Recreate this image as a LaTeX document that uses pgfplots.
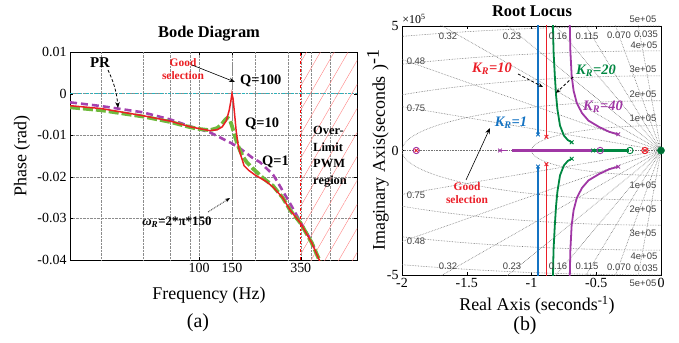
\documentclass[border=0pt]{standalone}
\usepackage{pgfplots}
\pgfplotsset{compat=1.18}
\usepackage{fontspec}
\setmainfont{Liberation Serif}
\setsansfont{Liberation Sans}
\usetikzlibrary{patterns.meta,arrows.meta}
\definecolor{cR}{RGB}{235,30,35}
\definecolor{cG}{RGB}{110,185,60}
\definecolor{cP}{RGB}{165,65,175}
\definecolor{cC}{RGB}{40,180,190}
\definecolor{bB}{RGB}{20,115,195}
\definecolor{bR}{RGB}{235,30,40}
\definecolor{bG}{RGB}{0,135,65}
\definecolor{bP}{RGB}{160,55,165}
\newcommand\fsz[2]{\fontsize{#1}{#2}\selectfont}
\tikzset{gl/.style={densely dotted, black!55, line width=0.6pt},
  zl/.style={font=\sffamily\fsz{9.5}{10}, text=black!75, inner sep=0.5pt}}
\begin{document}
\begin{tikzpicture}
\useasboundingbox (0,0) rectangle (679bp,-343bp);
% ---------------- (a) Bode ----------------
\begin{axis}[
  at={(70bp,-52bp)}, anchor=north west,
  scale only axis, width=287bp, height=208bp,
  xmode=log, xmin=20.4, xmax=700, ymin=-0.04, ymax=0.01,
  scaled y ticks=false,
  xtick={100,150,350}, xticklabels={100,150,350},
  extra x ticks={30,50,70,90,200,300,400,500}, extra x tick labels={},
  extra x tick style={grid=major, major tick length=0pt},
  ytick={-0.04,-0.03,-0.02,-0.01,0,0.01},
  yticklabels={-0.04,-0.03,-0.02,-0.01,0,0.01},
  grid=major, grid style={densely dotted, black!45},
  tick label style={font=\fsz{14}{14}},
  axis line style={line width=1pt}, tick style={black},
  major tick length=3bp, minor tick length=0pt,
]
\addplot[draw=none, pattern={Lines[angle=60,distance=12bp,line width=0.4pt]}, pattern color=red!50]
  coordinates {(350,-0.04)(700,-0.04)(700,0.01)(350,0.01)} --cycle;
\addplot[cC, line width=1.2pt, dashdotted] coordinates {(20.4,0)(700,0)};
\addplot[black!45, line width=0.8pt, dashdotted] coordinates {(150,-0.04)(150,0.01)};
\addplot[red, line width=1.2pt, dashdotted] coordinates {(350,-0.04)(350,0.01)};
% PR
\addplot[cP, line width=2.6pt, dash pattern=on 7bp off 4bp] coordinates {
(20.4,-0.0021)(30,-0.0030)(50,-0.0045)(70,-0.0062)(90,-0.0079)(114,-0.0093)(129,-0.0105)
(150,-0.0120)(166,-0.0132)(194,-0.0155)(212,-0.0165)(249,-0.0195)(261,-0.0210)(307,-0.0264)
(350,-0.0310)(400,-0.0355)(440,-0.0400)(450,-0.0410)};
% Q=10
\addplot[cG, line width=3.8pt, dash pattern=on 10bp off 3bp] coordinates {
(20.4,-0.0033)(30,-0.0040)(50,-0.0055)(70,-0.0068)(90,-0.0081)(100,-0.0085)(114,-0.0088)
(125,-0.0083)(132,-0.0074)(138,-0.0063)(142,-0.0058)(146,-0.0062)(150,-0.0078)(155,-0.0100)
(160,-0.0120)(166,-0.0138)(172,-0.0152)(180,-0.0165)(194,-0.0180)(220,-0.0203)(249,-0.0222)
(280,-0.0250)(307,-0.0280)(350,-0.0312)(400,-0.0358)(445,-0.0405)};
% Q=100
\addplot[cR, line width=1.5pt] coordinates {
(20.4,-0.0029)(30,-0.0036)(50,-0.0053)(70,-0.0066)(90,-0.0080)(100,-0.0084)(114,-0.0089)
(125,-0.0087)(133,-0.0080)(140,-0.0065)(145,-0.0040)(148,-0.0018)(150,0.0000)(152,-0.0012)
(155,-0.0050)(158,-0.0090)(162,-0.0125)(166,-0.0144)(170,-0.0158)(174,-0.0173)(185,-0.0185)
(200,-0.0196)(230,-0.0212)(249,-0.0225)(280,-0.0250)(307,-0.0280)(350,-0.0312)(400,-0.0358)(445,-0.0405)};
\end{axis}
% annotations (a)
\node[font=\bfseries\fsz{16.5}{18}] at (209bp,-34bp) {Bode Diagram};
\node[font=\bfseries\fsz{15}{16}] at (100bp,-63bp) {PR};
\draw[densely dashed, line width=0.8pt, -{Stealth[length=6bp]}] (108bp,-70bp) to[bend left=10] (118bp,-108bp);
\node[align=center, text=cR, font=\bfseries\fsz{11.5}{12.5}] at (183bp,-69bp) {Good\\selection};
\draw[line width=0.6pt, -{Stealth[length=6bp]}] (192bp,-65bp) -- (235bp,-82bp);
\node[anchor=west, font=\bfseries\fsz{14.5}{16}, inner sep=0pt] at (240bp,-81bp) {Q=100};
\node[anchor=west, font=\bfseries\fsz{14.5}{16}, inner sep=0pt] at (245bp,-124bp) {Q=10};
\node[anchor=west, font=\bfseries\fsz{14.5}{16}, inner sep=0pt] at (262bp,-162bp) {Q=1};
\node[font=\bfseries\fsz{13}{14}] at (177bp,-222bp) {\textit{ω}\textsubscript{\textit{R}}=2*π*150};
\draw[densely dotted, line width=0.8pt, -{Stealth[length=5bp]}] (208bp,-212bp) -- (230bp,-198bp);
\node[anchor=north west, align=left, inner sep=0pt, font=\bfseries\fsz{12.5}{16.8}] at (313bp,-126bp) {Over-\\Limit\\PWM\\region};
\node[font=\fsz{18}{20}] at (209bp,-295bp) {Frequency (Hz)};
\node[font=\fsz{20}{22}] at (198bp,-323bp) {(a)};
\node[font=\fsz{18}{20}, rotate=90] at (22bp,-156bp) {Phase (rad)};
% ---------------- (b) Root locus ----------------
\begin{axis}[
  at={(402bp,-26bp)}, anchor=north west,
  scale only axis, width=259bp, height=249bp,
  xmin=-2, xmax=0, ymin=-5, ymax=5,
  xtick={-2,-1.5,-1,-0.5,0}, xticklabels={-2,-1.5,-1,-0.5,0},
  ytick={-5,0,5}, yticklabels={-5,0,5},
  tick label style={font=\fsz{14}{14}},
  axis line style={line width=1pt}, tick style={black}, major tick length=3bp,
]
% grid: damping rays and wn circles
\addplot[gl] coordinates {(-10,0)(0,0)};
\addplot[gl] coordinates {(-0.35,9.994)(0,0)(-0.35,-9.994)};
\addplot[gl] coordinates {(-0.70,9.975)(0,0)(-0.70,-9.975)};
\addplot[gl] coordinates {(-1.15,9.934)(0,0)(-1.15,-9.934)};
\addplot[gl] coordinates {(-1.6,9.871)(0,0)(-1.6,-9.871)};
\addplot[gl] coordinates {(-2.3,9.732)(0,0)(-2.3,-9.732)};
\addplot[gl] coordinates {(-3.2,9.474)(0,0)(-3.2,-9.474)};
\addplot[gl] coordinates {(-4.8,8.773)(0,0)(-4.8,-8.773)};
\addplot[gl] coordinates {(-7.5,6.614)(0,0)(-7.5,-6.614)};
\draw[gl] (axis cs:0,0) ellipse [x radius=1, y radius=1];
\draw[gl] (axis cs:0,0) ellipse [x radius=2, y radius=2];
\draw[gl] (axis cs:0,0) ellipse [x radius=3, y radius=3];
\draw[gl] (axis cs:0,0) ellipse [x radius=4, y radius=4];
\draw[gl] (axis cs:0,0) ellipse [x radius=5, y radius=5];
% K_R = 1 (blue)
\addplot[bB, line width=1.6pt] coordinates {(-0.95,5.5)(-0.95,0.64)};
\addplot[bB, line width=1.6pt] coordinates {(-0.95,-0.64)(-0.95,-5.5)};
% K_R = 10 (red)
\addplot[bR, line width=0.5pt] coordinates {(-0.885,5.5)(-0.885,0.55)};
\addplot[bR, line width=0.5pt] coordinates {(-0.885,-0.55)(-0.885,-5.5)};
\addplot[bR, line width=1.5pt, densely dotted] coordinates {(-0.885,5.5)(-0.885,0.8)};
\addplot[bR, line width=1.5pt, densely dotted] coordinates {(-0.885,-2.2)(-0.885,-5.5)};
% K_R = 20 (green)
\addplot[bG, line width=1.8pt] coordinates {(-0.835,5.2)(-0.83,4)(-0.82,3)(-0.81,2.2)(-0.80,1.65)(-0.78,1.0)(-0.75,0.6)(-0.72,0.42)(-0.69,0.33)};
\addplot[bG, line width=1.8pt] coordinates {(-0.835,-5.2)(-0.83,-4)(-0.82,-3)(-0.81,-2.2)(-0.80,-1.65)(-0.78,-1.0)(-0.75,-0.6)(-0.72,-0.42)(-0.69,-0.33)};
% K_R = 40 (purple)
\addplot[bP, line width=1.8pt] coordinates {(-0.705,5.2)(-0.70,4)(-0.69,3)(-0.675,2.4)(-0.65,1.9)(-0.61,1.5)(-0.56,1.2)(-0.48,0.95)(-0.40,0.75)(-0.33,0.65)};
\addplot[bP, line width=1.8pt] coordinates {(-0.705,-5.2)(-0.70,-4)(-0.69,-3)(-0.675,-2.4)(-0.65,-1.9)(-0.61,-1.5)(-0.56,-1.2)(-0.48,-0.95)(-0.40,-0.75)(-0.33,-0.65)};
% real-axis branches
\addplot[bP, line width=1.2pt] coordinates {(-1.243,0)(-1.19,0)};
\addplot[bP, line width=3pt] coordinates {(-1.15,0)(-0.525,0)};
\addplot[bG, line width=3pt] coordinates {(-0.525,0)(-0.25,0)};
% markers
\addplot[only marks, mark=x, mark size=2.6, bB, line width=0.9pt] coordinates {(-0.95,0.64)(-0.95,-0.64)};
\addplot[only marks, mark=x, mark size=2.6, bR, line width=0.9pt] coordinates {(-0.885,0.55)(-0.885,-0.55)(-0.124,0)(-1.89,0)};
\addplot[only marks, mark=x, mark size=2.6, bG, line width=0.9pt] coordinates {(-0.69,0.33)(-0.69,-0.33)(-0.525,0)};
\addplot[only marks, mark=x, mark size=2.6, bP, line width=0.9pt] coordinates {(-0.33,0.65)(-0.33,-0.65)(-1.243,0)};
\addplot[only marks, mark=o, mark size=3.2, bP, line width=0.9pt] coordinates {(-0.47,0)(-1.89,0)};
\addplot[only marks, mark=o, mark size=3.2, bG, line width=0.9pt] coordinates {(-0.24,0)};
\addplot[only marks, mark=o, mark size=3.2, bR, line width=0.9pt] coordinates {(-0.124,0)};
\addplot[only marks, mark=*, mark size=3.6, bG, mark options={fill=bG!80!black}] coordinates {(0,0)};
\end{axis}
% grid labels (b)
\node[zl] at (448bp,-36bp) {0.32};
\node[zl] at (512bp,-36bp) {0.23};
\node[zl] at (558bp,-36bp) {0.16};
\node[zl] at (587bp,-36bp) {0.115};
\node[zl] at (619bp,-35bp) {0.070};
\node[zl] at (646bp,-34bp) {0.035};
\node[zl] at (416bp,-61bp) {0.48};
\node[zl] at (416bp,-108bp) {0.75};
\node[zl] at (416bp,-195bp) {0.75};
\node[zl] at (416bp,-241bp) {0.48};
\node[zl] at (448bp,-266bp) {0.32};
\node[zl] at (512bp,-266bp) {0.23};
\node[zl] at (558bp,-266bp) {0.16};
\node[zl] at (587bp,-266bp) {0.115};
\node[zl] at (619bp,-267bp) {0.070};
\node[zl] at (646bp,-268bp) {0.035};
\node[zl] at (643bp,-19bp) {5e+05};
\node[zl] at (644bp,-45bp) {4e+05};
\node[zl] at (643bp,-69bp) {3e+05};
\node[zl] at (643bp,-94bp) {2e+05};
\node[zl] at (643bp,-118bp) {1e+05};
\node[zl] at (643bp,-185bp) {1e+05};
\node[zl] at (643bp,-209bp) {2e+05};
\node[zl] at (643bp,-233bp) {3e+05};
\node[zl] at (644bp,-256bp) {4e+05};
\node[zl] at (643bp,-283bp) {5e+05};
% annotations (b)
\node[font=\fsz{12}{13}] at (414bp,-19bp) {×10\textsuperscript{5}};
\node[font=\bfseries\fsz{16.5}{18}] at (532bp,-11bp) {Root Locus};
\node[text=bR, font=\bfseries\itshape\fsz{14.5}{16}] at (492bp,-69bp) {K\textsubscript{R}=10};
\node[text=bG, font=\bfseries\itshape\fsz{14.5}{16}] at (596bp,-71bp) {K\textsubscript{R}=20};
\node[text=bP, font=\bfseries\itshape\fsz{14.5}{16}] at (603bp,-107bp) {K\textsubscript{R}=40};
\node[text=bB, font=\bfseries\itshape\fsz{14.5}{16}] at (511bp,-123bp) {K\textsubscript{R}=1};
\draw[densely dashed, line width=0.8pt, -{Stealth[length=5bp]}] (518bp,-74bp) -- (543bp,-87bp);
\draw[densely dashed, line width=0.8pt, -{Stealth[length=5bp]}] (573bp,-77bp) -- (556bp,-93bp);
\draw[line width=0.6pt, -{Stealth[length=6bp]}] (466bp,-180bp) -- (490bp,-128bp);
\node[align=center, text=bR, font=\bfseries\fsz{11.5}{13}] at (467bp,-193bp) {Good\\selection};
\node[font=\fsz{18}{20}] at (537bp,-305bp) {Real Axis (seconds\textsuperscript{-1})};
\node[font=\fsz{20}{22}] at (525bp,-326bp) {(b)};
\node[font=\fsz{18}{20}, rotate=90] at (378bp,-150bp) {Imaginary Axis(seconds\hspace{6bp})\raisebox{6bp}{-1}};
\end{tikzpicture}
\end{document}
